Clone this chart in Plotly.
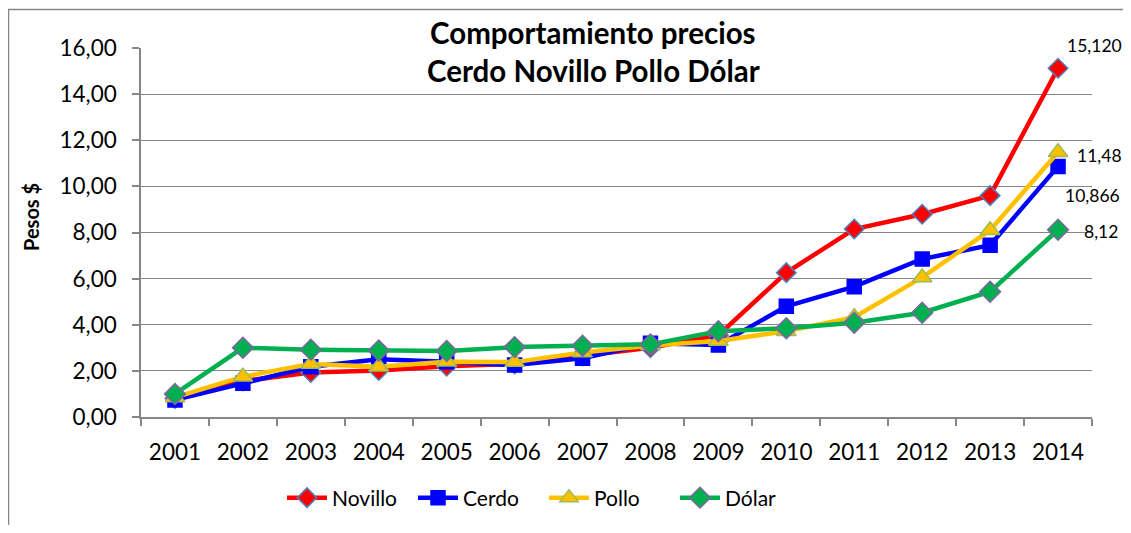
import plotly.graph_objects as go

years = ["2001", "2002", "2003", "2004", "2005", "2006", "2007",
         "2008", "2009", "2010", "2011", "2012", "2013", "2014"]
novillo = [0.80, 1.56, 1.93, 2.02, 2.20, 2.30, 2.65, 3.00, 3.55, 6.26, 8.15, 8.79, 9.60, 15.12]
cerdo = [0.74, 1.46, 2.18, 2.50, 2.40, 2.25, 2.55, 3.20, 3.12, 4.80, 5.65, 6.85, 7.45, 10.866]
pollo = [0.85, 1.75, 2.30, 2.18, 2.40, 2.38, 2.80, 3.10, 3.30, 3.72, 4.33, 6.05, 8.10, 11.48]
dolar = [1.00, 3.00, 2.92, 2.88, 2.86, 3.03, 3.09, 3.15, 3.72, 3.85, 4.09, 4.52, 5.43, 8.12]
end_labels = ["15,120", "10,866", "11,48", "8,12"]

FONT = "Lato"
OFF = 8  # page body margin
W, H = 1131 - OFF, 533 - 2 * OFF
L, T = 141 - OFF, 48 - OFF
pw, ph = 951, 369
R, B = W - L - pw, H - T - ph

fig = go.Figure()
series = [
    ("Novillo", novillo, "#FF0000", "diamond", "#FF0000", "#4F81BD", 15),
    ("Cerdo", cerdo, "#0000FF", "square", "#0000FF", "#0000FF", 14),
    ("Pollo", pollo, "#FFC000", "triangle-up", "#FFC000", "#9BBB59", 17),
    ("Dólar", dolar, "#00B050", "diamond", "#00B050", "#8064A2", 16),
]
for name, vals, col, sym, fill, edge, size in series:
    fig.add_trace(go.Scatter(
        x=years, y=vals, name=name, mode="lines+markers",
        line=dict(color=col, width=4.5),
        marker=dict(symbol=sym, size=size, color=fill,
                    line=dict(color=edge, width=1.5)),
    ))

def px2paper(px, py):
    # px, py are page coordinates of the reference picture
    return (px - OFF - L) / pw, (T + ph - (py - OFF)) / ph

def px2container(px, py):
    return (px - OFF) / W, 1 - (py - OFF) / H

# end-of-series data labels
offsets = [(36, 23), (34, -29), (41, -3), (43, -2)]
for (name, vals, *_), lab, (dx, dy) in zip(series, end_labels, offsets):
    fig.add_annotation(x=len(years) - 1, y=vals[-1], xref="x", yref="y",
                       text=lab, showarrow=False, xshift=dx, yshift=dy,
                       xanchor="center", yanchor="middle",
                       font=dict(family=FONT, size=17.5, color="#000000"))

# title
tx, ty1 = px2paper(593, 33)
_, ty2 = px2paper(593, 70)
fig.add_annotation(x=tx, y=ty1, xref="paper", yref="paper", showarrow=False,
                   xanchor="center", yanchor="middle",
                   text="<b>Comportamiento precios</b>",
                   font=dict(family=FONT, size=29.5, color="#000000"))
fig.add_annotation(x=tx, y=ty2, xref="paper", yref="paper", showarrow=False,
                   xanchor="center", yanchor="middle",
                   text="<b>Cerdo Novillo Pollo Dólar</b>",
                   font=dict(family=FONT, size=29.5, color="#000000"))

# y-axis title
ax, ay = px2paper(31, 217)
fig.add_annotation(x=ax, y=ay, xref="paper", yref="paper", showarrow=False,
                   xanchor="center", yanchor="middle",
                   text="<b>Pesos $</b>", textangle=-90,
                   font=dict(family=FONT, size=20, color="#000000"))

# outer chart border
x0, y0 = px2paper(8.5, 9.5)
x1, y1 = px2paper(1150, 560)
fig.add_shape(type="rect", xref="paper", yref="paper", x0=x0, y0=y1, x1=x1, y1=y0,
              line=dict(color="#868686", width=1.5), layer="below")

lx, ly = px2container(282, 498)
fig.update_layout(
    width=W, height=H,
    margin=dict(l=L, r=R, t=T, b=B),
    paper_bgcolor="white", plot_bgcolor="white",
    separators=",.",
    font=dict(family=FONT, size=18, color="#000000"),
    showlegend=True,
    legend=dict(orientation="h", x=lx, y=ly, xref="container", yref="container",
                xanchor="left", yanchor="middle",
                font=dict(family=FONT, size=21), itemwidth=40,
                entrywidth=76, entrywidthmode="pixels",
                traceorder="normal"),
    xaxis=dict(type="category", range=[-0.5, 13.5], showgrid=False,
               showline=True, linecolor="#868686", linewidth=1.5,
               ticks="outside", tickson="boundaries", ticklen=7,
               tickcolor="#868686", tickwidth=1.5, ticklabelstandoff=14,
               automargin=False,
               tickfont=dict(family=FONT, size=22.5), zeroline=False),
    yaxis=dict(range=[0, 16], dtick=2, tickformat=".2f",
               showgrid=True, gridcolor="#868686", gridwidth=1.2,
               showline=True, linecolor="#868686", linewidth=1.5,
               ticks="outside", ticklen=7, tickcolor="#868686", tickwidth=1.5,
               ticklabelstandoff=11, automargin=False,
               tickfont=dict(family=FONT, size=22.5), zeroline=False),
)

fig.write_html("out.html")
